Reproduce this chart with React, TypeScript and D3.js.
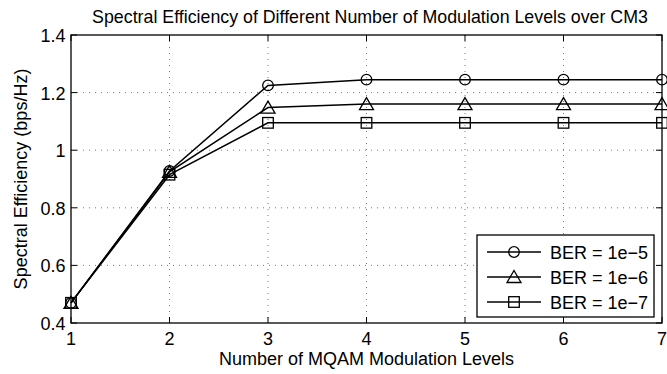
import React from "react";
import * as d3 from "d3";

const levels = [1, 2, 3, 4, 5, 6, 7];
const ber5 = [0.47, 0.928, 1.225, 1.245, 1.245, 1.245, 1.245];
const ber6 = [0.47, 0.925, 1.148, 1.16, 1.16, 1.16, 1.16];
const ber7 = [0.47, 0.915, 1.095, 1.095, 1.095, 1.095, 1.095];
const seriesNames = ["BER = 1e\u22125", "BER = 1e\u22126", "BER = 1e\u22127"];
const markers = ["circle", "triangle", "square"];
const xTicks = [1, 2, 3, 4, 5, 6, 7];
const yTicks = [0.4, 0.6, 0.8, 1, 1.2, 1.4];

const W = 667, H = 374;
const M = { left: 71, right: 662, top: 35, bottom: 323 };
const font = "Liberation Sans, Arial, Helvetica, sans-serif";

function Marker({ type, x, y }: { type: string; x: number; y: number }) {
  const s = 5.3;
  if (type === "circle") return <circle cx={x} cy={y} r={s} fill="none" stroke="#000" strokeWidth={1.3} />;
  if (type === "triangle")
    return <path d={`M${x},${y - 6.5}L${x + 7},${y + 5.5}L${x - 7},${y + 5.5}Z`} fill="none" stroke="#000" strokeWidth={1.3} />;
  return <rect x={x - s} y={y - s} width={2 * s} height={2 * s} fill="none" stroke="#000" strokeWidth={1.3} />;
}

export default function App() {
  const x = d3.scaleLinear().domain([1, 7]).range([M.left, M.right]);
  const y = d3.scaleLinear().domain([0.4, 1.4]).range([M.bottom, M.top]);
  const line = d3.line<number>().x((_, i) => x(levels[i])).y((d) => y(d));
  const series = [ber5, ber6, ber7];
  const fmt = (v: number) => (v === 1 ? "1" : String(+v.toFixed(1)));
  const lg = { x0: 477, y0: 235, x1: 654, y1: 317 };
  const rowY = [252, 277, 302];

  return (
    <svg width={W} height={H} style={{ position: "absolute", left: 0, top: 0, background: "#fff" }} fontFamily={font}>
      <rect x={0} y={0} width={W} height={H} fill="#fff" />
      {/* grid */}
      {xTicks.slice(1, -1).map((t) => (
        <line key={"gx" + t} x1={x(t)} x2={x(t)} y1={M.top} y2={M.bottom} stroke="#555" strokeWidth={0.8} strokeDasharray="1,5" />
      ))}
      {yTicks.slice(1, -1).map((t) => (
        <line key={"gy" + t} x1={M.left} x2={M.right} y1={y(t)} y2={y(t)} stroke="#555" strokeWidth={0.8} strokeDasharray="1,5" />
      ))}
      {/* ticks */}
      {xTicks.map((t) => (
        <g key={"tx" + t}>
          <line x1={x(t)} x2={x(t)} y1={M.bottom} y2={M.bottom - 6} stroke="#000" />
          <line x1={x(t)} x2={x(t)} y1={M.top} y2={M.top + 6} stroke="#000" />
          <text x={x(t)} y={344.5} textAnchor="middle" fontSize={18}>{t}</text>
        </g>
      ))}
      {yTicks.map((t) => (
        <g key={"ty" + t}>
          <line x1={M.left} x2={M.left + 6} y1={y(t)} y2={y(t)} stroke="#000" />
          <line x1={M.right} x2={M.right - 6} y1={y(t)} y2={y(t)} stroke="#000" />
          <text x={65.5} y={y(t) + 7} textAnchor="end" fontSize={18}>{fmt(t)}</text>
        </g>
      ))}
      <rect x={M.left} y={M.top} width={M.right - M.left} height={M.bottom - M.top} fill="none" stroke="#000" strokeWidth={1.3} />
      {/* series */}
      {series.map((s, si) => (
        <g key={"s" + si}>
          <path d={line(s) || ""} fill="none" stroke="#000" strokeWidth={1.5} />
          {s.map((v, i) => (
            <Marker key={i} type={markers[si]} x={x(levels[i])} y={y(v)} />
          ))}
        </g>
      ))}
      {/* legend */}
      <rect x={lg.x0} y={lg.y0} width={lg.x1 - lg.x0} height={lg.y1 - lg.y0} fill="#fff" stroke="#000" strokeWidth={1.3} />
      {seriesNames.map((n, i) => (
        <g key={"l" + i}>
          <line x1={487} x2={541} y1={rowY[i]} y2={rowY[i]} stroke="#000" strokeWidth={1.5} />
          <Marker type={markers[i]} x={514} y={rowY[i]} />
          <text x={550} y={rowY[i] + 6.5} fontSize={18}>{n}</text>
        </g>
      ))}
      {/* labels */}
      <text x={370} y={22.5} textAnchor="middle" fontSize={17.8}>
        Spectral Efficiency of Different Number of Modulation Levels over CM3
      </text>
      <text x={(M.left + M.right) / 2} y={365} textAnchor="middle" fontSize={18}>
        Number of MQAM Modulation Levels
      </text>
      <text transform={`translate(27,${(M.top + M.bottom) / 2}) rotate(-90)`} textAnchor="middle" fontSize={18}>
        Spectral Efficiency (bps/Hz)
      </text>
    </svg>
  );
}
